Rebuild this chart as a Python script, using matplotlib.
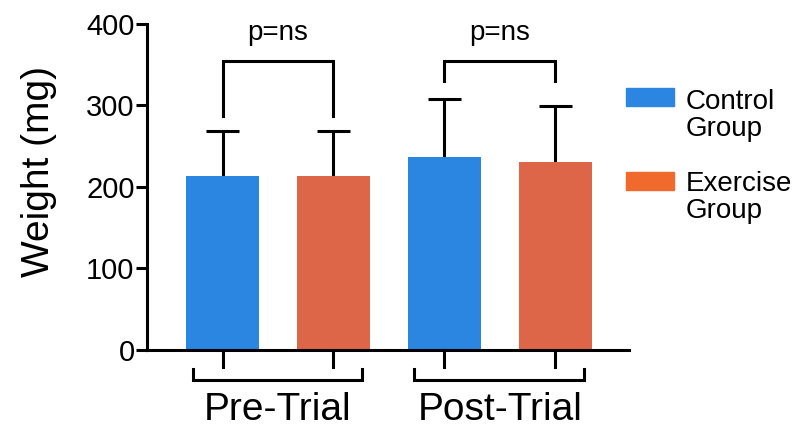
import matplotlib.pyplot as plt
from matplotlib.patches import Rectangle

plt.rcParams['font.family'] = ['Liberation Sans', 'DejaVu Sans']

# Data
groups = ['Pre-Trial', 'Post-Trial']
series = ['Control\nGroup', 'Exercise\nGroup']
means = [213.5, 213.5, 236, 230.5]     # control pre, exercise pre, control post, exercise post
upper_err = [54.5, 54.5, 72, 68.5]
bar_colors = ['#2A86E0', '#DD6548', '#2A86E0', '#DD6548']
legend_colors = ['#2A86E0', '#F06A2D']
p_labels = ['p=ns', 'p=ns']
bracket_top = 355
bracket_legs = [287, 330]

W, H = 803, 428
fig = plt.figure(figsize=(W / 100, H / 100), dpi=100)
ax = fig.add_axes([0.1831, 0.1834, 0.6002, 0.7605])

lw = 2.2
x = list(range(len(means)))
ax.bar(x, means, width=0.66, color=bar_colors, zorder=2)

# upper error bars only
tops = [m + e for m, e in zip(means, upper_err)]
ax.vlines(x, means, tops, color='black', lw=lw, zorder=1)
ax.hlines(tops, [xi - 0.15 for xi in x], [xi + 0.15 for xi in x], color='black', lw=lw)

# significance brackets above each pair
for g in range(2):
    a, b = 2 * g, 2 * g + 1
    ax.plot([a, a, b, b], [bracket_legs[g], bracket_top, bracket_top, bracket_legs[g]],
            color='black', lw=lw, solid_joinstyle='miter')
    ax.text((a + b) / 2, 380, p_labels[g], ha='center', va='baseline', fontsize=20)

# ticks and group brackets under the x axis
for xi in x:
    ax.plot([xi, xi], [0, -21], color='black', lw=lw, clip_on=False)
for g in range(2):
    a, b = 2 * g - 0.27, 2 * g + 1.26
    ax.plot([a, a, b, b], [-24, -37.5, -37.5, -24], color='black', lw=lw,
            clip_on=False, solid_joinstyle='miter')
    ax.text(2 * g + 0.5, -86.5, groups[g], ha='center', va='baseline', fontsize=28)

ax.set_xlim(-0.681, 3.666)
ax.set_ylim(0, 400)
ax.set_xticks([])
ax.set_yticks([0, 100, 200, 300, 400])
ax.tick_params(axis='y', labelsize=21, width=lw, length=8, pad=1)
ax.spines['top'].set_visible(False)
ax.spines['right'].set_visible(False)
ax.spines['left'].set_linewidth(lw)
ax.spines['bottom'].set_linewidth(lw)
ax.set_ylabel('Weight (mg)', fontsize=28)
ax.yaxis.set_label_coords(-0.187, 0.548)

# legend drawn by hand so the swatch lines up with the first text line
swatch_tops = [88, 172]
first_baselines = [109, 191]
for i, (name, col) in enumerate(zip(series, legend_colors)):
    fig.patches.append(Rectangle((626 / W, 1 - (swatch_tops[i] + 18) / H), 48 / W, 18 / H,
                                 transform=fig.transFigure, color=col))
    for j, line in enumerate(name.split('\n')):
        fig.text(686 / W, 1 - (first_baselines[i] + 26.5 * j) / H, line,
                 ha='left', va='baseline', fontsize=20)

fig.savefig('out.png', dpi=100)
